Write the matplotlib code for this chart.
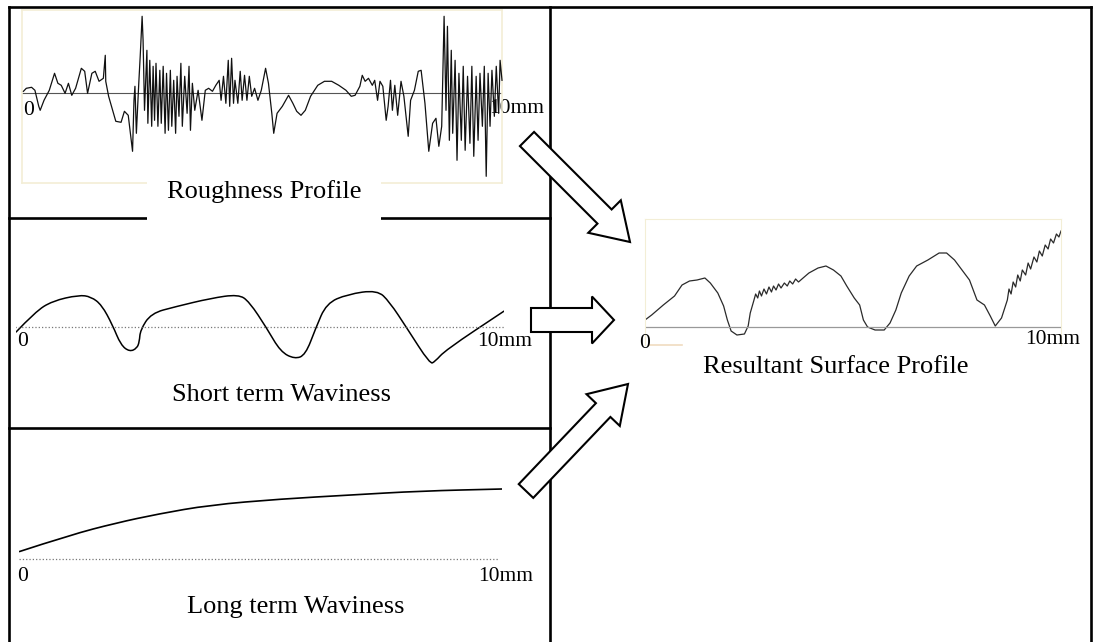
import matplotlib.pyplot as plt
from matplotlib.patches import FancyArrow, PathPatch
from matplotlib.path import Path

plt.rcParams['font.family'] = ['Liberation Serif', 'DejaVu Serif']

# roughness profile (x in mm, height in um)
rough_x = [0.00, 0.06, 0.17, 0.24, 0.32, 0.35, 0.43, 0.54, 0.65, 0.72, 0.79, 0.87, 0.94, 1.01, 1.09,
           1.21, 1.28, 1.34, 1.43, 1.50, 1.58, 1.67, 1.71, 1.72, 1.78, 1.93, 2.04, 2.11, 2.19, 2.28,
           2.31, 2.33, 2.36, 2.41, 2.44, 2.48, 2.50, 2.53, 2.58, 2.60, 2.64, 2.68, 2.71, 2.74, 2.77,
           2.81, 2.85, 2.88, 2.92, 2.96, 2.99, 3.03, 3.07, 3.10, 3.14, 3.18, 3.21, 3.25, 3.29, 3.32,
           3.37, 3.42, 3.46, 3.49, 3.53, 3.58, 3.65, 3.73, 3.80, 3.87, 3.95, 4.02, 4.09, 4.13, 4.18,
           4.23, 4.28, 4.31, 4.35, 4.39, 4.42, 4.48, 4.53, 4.57, 4.62, 4.67, 4.72, 4.77, 4.83, 4.90,
           4.97, 5.06, 5.12, 5.19, 5.23, 5.30, 5.41, 5.54, 5.63, 5.71, 5.80, 5.89, 6.00, 6.15, 6.29,
           6.44, 6.59, 6.74, 6.85, 6.93, 7.03, 7.08, 7.14, 7.21, 7.29, 7.34, 7.40, 7.45, 7.51, 7.58,
           7.62, 7.67, 7.71, 7.76, 7.82, 7.89, 7.95, 8.04, 8.09, 8.17, 8.25, 8.31, 8.39, 8.47, 8.55,
           8.62, 8.68, 8.74, 8.79, 8.83, 8.86, 8.90, 8.94, 8.97, 9.02, 9.06, 9.10, 9.15, 9.19, 9.23,
           9.28, 9.33, 9.37, 9.41, 9.46, 9.50, 9.54, 9.59, 9.63, 9.67, 9.71, 9.75, 9.79, 9.84, 9.88,
           9.93, 9.96, 10.00]
rough_y = [2, 5, 6, 3, -13, -17, -7, 3, 20, 10, 8, 0, 10, -2, 5,
           25, 22, 0, 20, 22, 12, 15, 38, 12, -3, -28, -29, -18, -22, -58,
           -7, 7, -40, 10, 37, 77, 53, -17, 43, -30, 33, -33, 27, -27, 30,
           -33, 23, -30, 27, -40, 20, -37, 23, -33, 13, -40, 17, -23, 30, -33,
           17, -20, 27, -37, 10, -17, 3, -27, 3, 5, 2, 8, 13, -7, 17,
           -10, 33, -13, 35, -10, 13, -10, 22, -7, 18, -7, 17, -3, 5, -7,
           3, 25, 10, -20, -40, -20, -13, -2, -10, -18, -22, -17, -3, 8, 12,
           12, 8, 3, -3, -2, 7, 18, 12, 15, 8, 13, -7, 12, 7, -27,
           -13, 13, -17, 8, -22, 12, -3, -43, -7, 3, 22, 23, -10, -58, -30,
           -25, -53, -33, 77, -17, 67, -47, 43, -40, 33, -67, 20, -47, 27, -57,
           17, -50, 27, -63, 17, -47, 20, -33, 27, -83, 20, -33, 23, -23, 27,
           -20, 33, 13]

# short term waviness
short_x = [0.00, 0.40, 0.75, 1.29, 1.54, 1.76, 1.98, 2.15, 2.33, 2.48, 2.53, 2.55, 2.77, 3.27,
           3.99, 4.56, 4.78, 5.14, 5.42, 5.71, 5.93, 6.14, 6.36, 6.79, 7.40, 7.65, 8.01, 8.48,
           8.58, 8.80, 10.00]
short_y = [-5.6, 15, 25.7, 31.7, 30, 21.7, 1.7, -18.3, -25, -21.6, -15, -3.3, 13.4, 20,
           28.4, 32.4, 25, -1.6, -25, -32.3, -28.3, -1.6, 23.4, 32.4, 36.7, 25, -1.6, -37.3,
           -35, -23.3, 15.7]

# long term waviness
long_x = [0.00, 1.06, 2.01, 2.88, 3.95, 5.42, 6.87, 8.32, 10.00]
long_y = [7.6, 24.3, 36.3, 45.3, 54.3, 60.3, 64.3, 68.3, 70.3]

# resultant surface profile
res_x = [0.00, 0.16, 0.44, 0.71, 0.89, 1.07, 1.25, 1.44, 1.57, 1.75, 1.89, 1.98, 2.07, 2.21,
         2.39, 2.48, 2.53, 2.62, 2.66, 2.71, 2.75, 2.80, 2.86, 2.92, 2.98, 3.04, 3.09, 3.15,
         3.21, 3.27, 3.35, 3.42, 3.48, 3.55, 3.62, 3.69, 3.80, 3.94, 4.16, 4.35, 4.53, 4.71,
         4.85, 5.03, 5.16, 5.25, 5.35, 5.53, 5.75, 5.89, 6.03, 6.16, 6.35, 6.53, 6.80, 7.07,
         7.25, 7.44, 7.62, 7.80, 7.98, 8.16, 8.30, 8.42, 8.57, 8.71, 8.75, 8.80, 8.85, 8.91,
         8.96, 9.02, 9.07, 9.15, 9.21, 9.27, 9.35, 9.42, 9.48, 9.55, 9.62, 9.69, 9.75, 9.82,
         9.89, 9.95, 10.00]
res_y = [7, 12, 22, 31, 42, 46, 47, 49, 44, 34, 21, 7, -4, -8,
         -7, 1, 14, 27, 33, 29, 36, 31, 38, 33, 40, 35, 41, 37,
         43, 39, 44, 41, 46, 43, 48, 45, 49, 54, 59, 61, 57, 51,
         41, 29, 22, 7, 0, -3, -3, 4, 17, 34, 51, 61, 67, 74,
         74, 67, 57, 47, 27, 22, 11, 1, 9, 27, 38, 33, 45, 40,
         52, 46, 57, 52, 64, 58, 70, 65, 76, 71, 82, 78, 88, 84,
         93, 90, 96]

W, H = 1093, 642
fig = plt.figure(figsize=(W / 100, H / 100), dpi=100)


def panel(l, t, r, b):
    return fig.add_axes([l / W, 1 - b / H, (r - l) / W, (b - t) / H])


def smooth_line(ax, xs, ys, **kw):
    # quadratic bezier chain using the read points as control points
    pts = list(zip(xs, ys))
    verts = [pts[0]]
    codes = [Path.MOVETO]
    for i in range(1, len(pts) - 1):
        nx = (pts[i][0] + pts[i + 1][0]) / 2
        ny = (pts[i][1] + pts[i + 1][1]) / 2
        verts += [pts[i], (nx, ny)]
        codes += [Path.CURVE3, Path.CURVE3]
    verts.append(pts[-1])
    codes.append(Path.LINETO)
    ax.add_patch(PathPatch(Path(verts, codes), fill=False, **kw))


beige = '#f3eed6'

# roughness
ax1 = panel(22, 10, 502, 183)
ax1.plot(rough_x, rough_y, color='#111111', lw=0.9, zorder=3, clip_on=False)
ax1.axhline(0, color='#555555', lw=0.8, zorder=2)
ax1.set_xlim(-0.03, 10.0)
ax1.set_ylim(-89.7, 83.3)
ax1.set_xticks([])
ax1.set_yticks([])
for s in ax1.spines.values():
    s.set_color(beige)
    s.set_linewidth(1.2)
ax1.text(0, -17, '0', fontsize=15.5, ha='left', va='center', zorder=1)
ax1.text(9.74, -15, '10mm', fontsize=15.5, ha='left', va='center', zorder=1)

# short term waviness
ax2 = panel(15.8, 270, 504.2, 380)
smooth_line(ax2, short_x, short_y, ec='black', lw=1.1)
ax2.plot([-0.02, 10], [0, 0], color='#777777', lw=0.9, ls=':')
ax2.set_xlim(0, 10)
ax2.set_ylim(-53.3, 56.7)
ax2.axis('off')
ax2.text(0.02, -14.5, '0', fontsize=15.5, ha='left', va='center')
ax2.text(9.45, -14.5, '10mm', fontsize=15.5, ha='left', va='center')

# long term waviness
ax3 = panel(19, 470, 502, 600)
smooth_line(ax3, long_x, long_y, ec='black', lw=1.2)
ax3.plot([0, 9.91], [0, 0], color='#777777', lw=0.9, ls=':')
ax3.set_xlim(0, 10)
ax3.set_ylim(-40.7, 89.3)
ax3.axis('off')
ax3.text(-0.03, -17.5, '0', fontsize=15.5, ha='left', va='center')
ax3.text(9.5, -17.5, '10mm', fontsize=15.5, ha='left', va='center')

# resultant surface profile
ax4 = panel(645, 219, 1061, 345)
ax4.plot(res_x, res_y, color='#2a2a2a', lw=0.9)
ax4.axhline(0, color='#999999', lw=0.9)
ax4.plot([0.1, 0.9], [-18, -18], color='#f0dcc0', lw=1.2, clip_on=False)
ax4.set_xlim(0, 10)
ax4.set_ylim(-18, 108)
ax4.set_xticks([])
ax4.set_yticks([])
for name, s in ax4.spines.items():
    s.set_color(beige)
    s.set_visible(name != 'bottom')
ax4.text(-0.13, -16, '0', fontsize=15.5, ha='left', va='center')
ax4.text(9.13, -13, '10mm', fontsize=15.5, ha='left', va='center')

# overlay in pixel coordinates: frame, arrows, captions
ax0 = fig.add_axes([0, 0, 1, 1])
ax0.set_xlim(0, W)
ax0.set_ylim(H, 0)
ax0.axis('off')
lk = dict(color='black', lw=1.9, solid_capstyle='projecting')
ax0.plot([9, 9], [7, H], **lk)
ax0.plot([1091, 1091], [7, H], **lk)
ax0.plot([9, 1091], [7, 7], **lk)
ax0.plot([550, 550], [7, H], **lk)
ax0.plot([9, 550], [218, 218], **lk)
ax0.plot([9, 550], [428, 428], **lk)

ak = dict(length_includes_head=True, fc='white', ec='black', lw=1.5, zorder=5)
ax0.add_patch(FancyArrow(527, 139, 103, 103, width=20, head_width=46, head_length=36, **ak))
ax0.add_patch(FancyArrow(531, 320, 83, 0, width=24, head_width=47, head_length=22, **ak))
ax0.add_patch(FancyArrow(526, 491, 102, -107, width=20, head_width=46, head_length=36, **ak))

tk = dict(fontsize=19, ha='center', va='center', zorder=6)
ax0.text(264, 192, 'Roughness Profile',
         bbox=dict(boxstyle='square,pad=0.75', fc='white', ec='none'), **tk)
ax0.text(282, 395, 'Short term Waviness', **tk)
ax0.text(296, 607, 'Long term Waviness', **tk)
ax0.text(836, 367, 'Resultant Surface Profile', **tk)

fig.savefig('out.png', dpi=100)
